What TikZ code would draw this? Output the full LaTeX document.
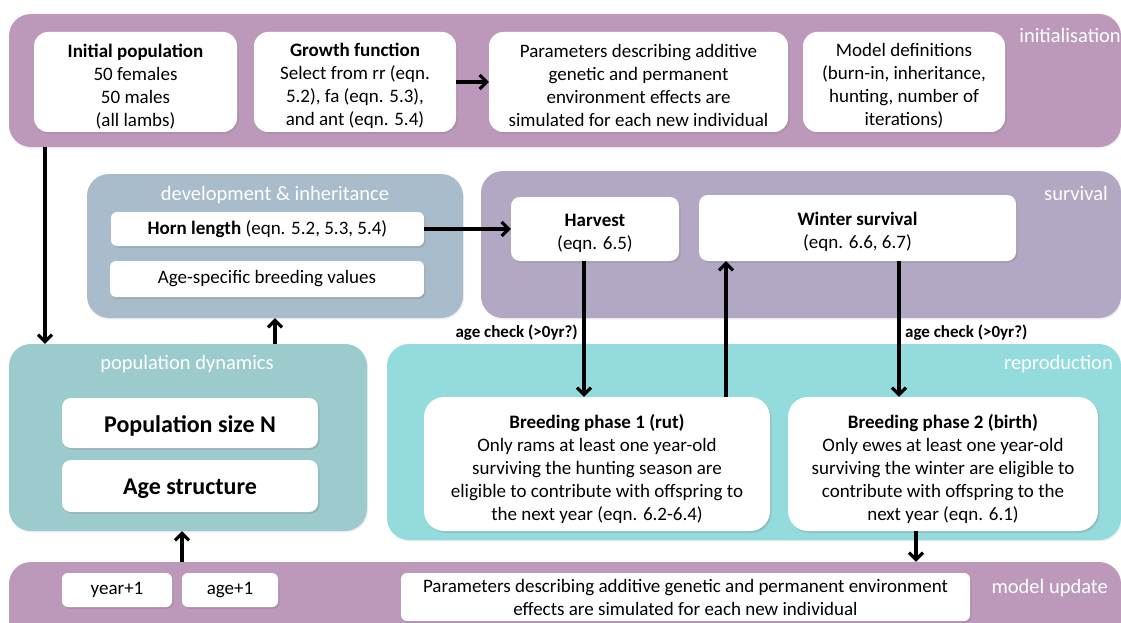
\documentclass[tikz,border=0pt]{standalone}
\usepackage{fontspec}
\setmainfont{Carlito}
\usetikzlibrary{arrows.meta,shadows,calc}
\definecolor{initc}{HTML}{BC99BA}
\definecolor{devc}{HTML}{A8BCCB}
\definecolor{survc}{HTML}{B2A8C4}
\definecolor{popc}{HTML}{9BCBCC}
\definecolor{repc}{HTML}{93DBDD}
\newcommand\fbody{\fontsize{19}{23}\selectfont}
\newcommand\ftitle{\fontsize{20.5}{24}\selectfont}
\newcommand\fbig{\fontsize{24}{28}\selectfont\bfseries}
\newcommand\flab{\fontsize{17}{20}\selectfont\bfseries}
\newcommand\upstrut[1]{\rule{0pt}{#1}}
\begin{document}
\begin{tikzpicture}[x=1pt,y=-1pt,
  group/.style={fill=#1, draw=none, rounded corners=22pt, inner sep=0pt,
    drop shadow={shadow xshift=1pt, shadow yshift=-1.5pt, opacity=0.12}},
  wbox/.style={fill=white, draw=none, rounded corners=14pt, align=center, inner sep=0pt,
    font=\fbody, drop shadow={shadow xshift=1.5pt, shadow yshift=-1.8pt, opacity=0.3}},
  sbox/.style={wbox, rounded corners=6pt},
  grouptitle/.style={text=white, font=\ftitle, inner sep=0pt},
  agelab/.style={font=\flab, inner sep=0pt},
  arr/.style={line width=3.2pt, -{Straight Barb[length=7pt,width=14pt]}}
]
\useasboundingbox (0,0) rectangle (1121,623);
\clip (0,0) rectangle (1121,623);
\fill[white] (0,0) rectangle (1121,623);

% group boxes
\node[group=initc, minimum width=1112pt, minimum height=133pt] (initband) at (565,80.5) {};
\node[group=devc, minimum width=376pt, minimum height=144pt] (devbox) at (275,246) {};
\node[group=survc, minimum width=640pt, minimum height=147pt] (survbox) at (801,244.5) {};
\node[group=popc, minimum width=358pt, minimum height=187pt] (popdyn) at (188,437.5) {};
\node[group=repc, minimum width=734pt, minimum height=196pt] (repro) at (754,442) {};
\node[group=initc, minimum width=1112pt, minimum height=90pt] (modelband) at (565,607) {};

% group titles
\node[grouptitle, anchor=east] (tinit) at (1121,35) {initialisation};
\node[grouptitle] (tdev) at (275,195) {development \& inheritance};
\node[grouptitle, anchor=east] (tsurv) at (1108,193) {survival};
\node[grouptitle] (tpop) at (187,364) {population dynamics};
\node[grouptitle, anchor=east] (trep) at (1113,364) {reproduction};
\node[grouptitle, anchor=east] (tmod) at (1108,588) {model update};

% initialisation boxes
\node[wbox, minimum width=203pt, minimum height=100pt] (initpop) at (135.5,82)
  {\upstrut{22pt}\textbf{Initial population}\\50 females\\50 males\\(all lambs)};
\node[wbox, minimum width=202pt, minimum height=100pt] (growth) at (355,82)
  {\upstrut{22pt}\textbf{Growth function}\\Select from rr (eqn.\\5.2), fa (eqn. 5.3),\\and ant (eqn. 5.4)};
\node[wbox, minimum width=299pt, minimum height=100pt] (params) at (638.5,82)
  {\upstrut{20pt}Parameters describing additive\\genetic and permanent\\environment effects are\\simulated for each new individual};
\node[wbox, minimum width=202pt, minimum height=100pt] (modeldef) at (904,82)
  {\upstrut{20pt}Model definitions\\(burn-in, inheritance,\\hunting, number of\\iterations)};

% development & inheritance
\node[sbox, minimum width=313pt, minimum height=34pt] (horn) at (267.5,229)
  {\textbf{Horn length} (eqn. 5.2, 5.3, 5.4)};
\node[sbox, minimum width=314pt, minimum height=36pt] (agespec) at (267,279)
  {Age-specific breeding values};

% survival
\node[sbox, rounded corners=9pt, minimum width=168pt, minimum height=64pt] (harvest) at (595,229)
  {\upstrut{22pt}\textbf{Harvest}\\(eqn. 6.5)};
\node[sbox, rounded corners=9pt, minimum width=317pt, minimum height=66pt] (winter) at (857.5,228)
  {\upstrut{21pt}\textbf{Winter survival}\\(eqn. 6.6, 6.7)};

% population dynamics
\node[sbox, rounded corners=9pt, minimum width=256pt, minimum height=50pt, font=\fbig] (popN) at (190,423)
  {\upstrut{22pt}Population size N};
\node[sbox, rounded corners=9pt, minimum width=256pt, minimum height=52pt, font=\fbig] (agestruct) at (190,486)
  {\upstrut{22pt}Age structure};

% reproduction
\node[wbox, rounded corners=20pt, minimum width=346pt, minimum height=134pt] (br1) at (597,464)
  {\upstrut{25pt}\textbf{Breeding phase 1 (rut)}\\Only rams at least one year-old\\surviving the hunting season are\\eligible to contribute with offspring to\\\upstrut{18pt}the next year (eqn. 6.2-6.4)};
\node[wbox, rounded corners=20pt, minimum width=310pt, minimum height=134pt] (br2) at (943,464)
  {\upstrut{24pt}\textbf{Breeding phase 2 (birth)}\\Only ewes at least one year-old\\surviving the winter are eligible to\\contribute with offspring to the\\next year (eqn. 6.1)};

% model update
\node[sbox, minimum width=110pt, minimum height=34pt] (year) at (117,590) {year+1};
\node[sbox, minimum width=96pt, minimum height=34pt] (age) at (230,590) {age+1};
\node[sbox, minimum width=569pt, minimum height=48pt] (paramsb) at (685.5,597)
  {Parameters describing additive genetic and permanent environment\\effects are simulated for each new individual};

% labels
\node[agelab, anchor=east] (lab1) at (578,333) {age check (>0yr?)};
\node[agelab, anchor=west] (lab2) at (905,333) {age check (>0yr?)};

% column coordinates
\coordinate (c1) at (45,0);
\coordinate (c2) at (182,0);
\coordinate (c3) at (584,0);
\coordinate (c4) at (726,0);
\coordinate (c5) at (899,0);
\coordinate (c6) at (916,0);

% connectors
\draw[arr] (growth) -- (params);
\draw[arr] (horn) -- (harvest);
\draw[arr] (initband.south -| c1) -- (popdyn.north -| c1);
\draw[arr] (popdyn.north -| devbox.south) -- (devbox.south);
\draw[arr] (modelband.north -| c2) -- (popdyn.south -| c2);
\draw[arr] (harvest.south -| c3) -- (br1.north -| c3);
\draw[arr] (br1.north -| c4) -- (winter.south -| c4);
\draw[arr] (winter.south -| c5) -- (br2.north -| c5);
\draw[arr] (br2.south -| c6) -- (modelband.north -| c6);
\end{tikzpicture}
\end{document}
